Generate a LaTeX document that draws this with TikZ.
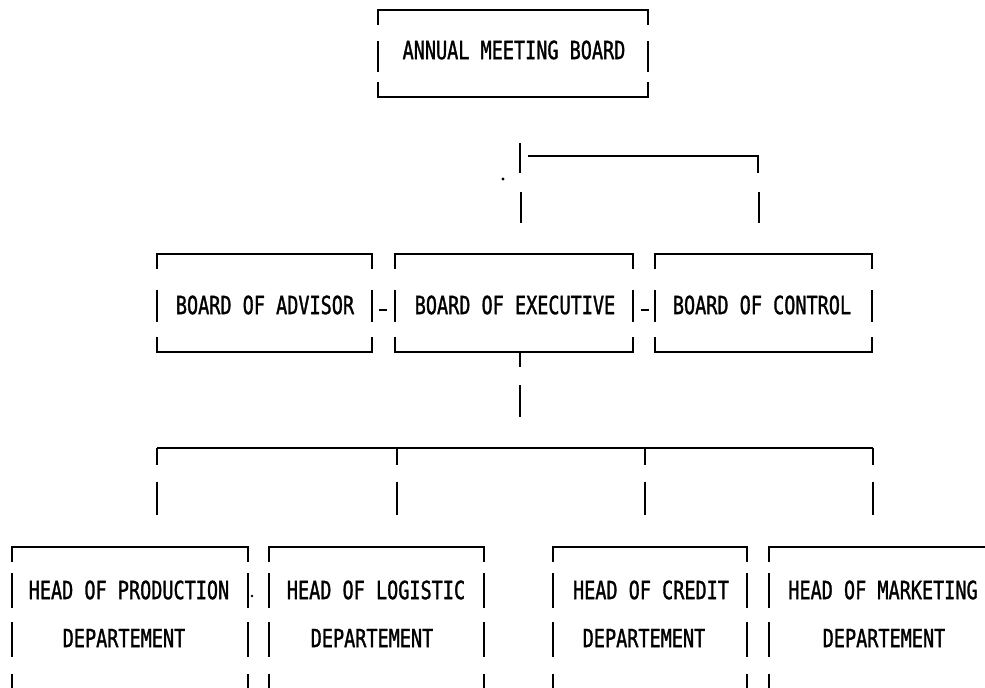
\documentclass[tikz,border=0pt]{standalone}
\usepackage{fontspec}
\usetikzlibrary{calc,fit}
\newfontfamily\dotmatrix[FakeStretch=0.74,FakeBold=1.2]{DejaVu Sans Mono}
\tikzset{
  rule/.style={line width=0.95pt, line cap=butt, black},
  frame/.style={draw=none, inner sep=0pt, outer sep=0pt},
  lbl/.style={inner sep=0pt, outer sep=0pt, font=\dotmatrix\fontsize{12.5}{12.5}\selectfont},
}
% broken printer-style frame round a fitted node: corner ticks plus side segments
\newcommand\dotframe[2]{%
  \draw[rule] ($(#1.north west)+(0,15)$) -- (#1.north west) -- (#1.north east) -- ($(#1.north east)+(0,15)$);
  \draw[rule] ($(#1.south west)+(0,-15)$) -- (#1.south west) -- (#1.south east) -- ($(#1.south east)+(0,-15)$);
  \foreach \segA/\segB in {#2}{%
    \draw[rule] ($(#1.north west)+(0,\segA)$) -- ($(#1.north west)+(0,\segB)$);
    \draw[rule] ($(#1.north east)+(0,\segA)$) -- ($(#1.north east)+(0,\segB)$);
  }%
}
\begin{document}
\begin{tikzpicture}[x=0.5pt,y=-0.5pt]
\fill[white] (0,0) rectangle (985,687);
\clip (0,0) rectangle (985,687);

% top level
\node[frame, fit={(378,10)(648,97)}] (amb) {};
\dotframe{amb}{31/62}
\node[lbl] (ambT) at (514,50) {ANNUAL MEETING BOARD};

% boards
\node[frame, fit={(157,254)(372,352)}] (adv) {};
\node[frame, fit={(395,254)(633,352)}] (exe) {};
\node[frame, fit={(655,254)(872,352)}] (ctl) {};
\foreach \bx in {adv,exe,ctl}{\dotframe{\bx}{36/68}}
\node[lbl] (advT) at (265,305) {BOARD OF ADVISOR};
\node[lbl] (exeT) at (515,305) {BOARD OF EXECUTIVE};
\node[lbl] (ctlT) at (762,305) {BOARD OF CONTROL};

% short dashes joining the boards
\draw[rule] ($(adv.east)+(7,7)$) coordinate (d1a) -- ++(8,0) coordinate (d1b);
\draw[rule] ($(exe.east)+(8,7)$) coordinate (d2a) -- ++(8,0) coordinate (d2b);

% departments
\node[frame, fit={(12,547)(248,710)}] (prd) {};
\node[frame, fit={(269,547)(484,710)}] (lgs) {};
\node[frame, fit={(553,547)(747,710)}] (crd) {};
\node[frame, fit={(769,547)(995,710)}] (mkt) {};
\foreach \bx in {prd,lgs,crd,mkt}{\dotframe{\bx}{26/61,75/110,127/146}}
\node[lbl] (prdA) at (129,590) {HEAD OF PRODUCTION};
\node[lbl] (prdB) at (124,638) {DEPARTEMENT};
\node[lbl] (lgsA) at (376,590) {HEAD OF LOGISTIC};
\node[lbl] (lgsB) at (372,638) {DEPARTEMENT};
\node[lbl] (crdA) at (651,590) {HEAD OF CREDIT};
\node[lbl] (crdB) at (644,638) {DEPARTEMENT};
\node[lbl] (mktA) at (883,590) {HEAD OF MARKETING};
\node[lbl] (mktB) at (884,638) {DEPARTEMENT};

% connector above the boards
\coordinate (u1) at (520,143); \coordinate (u2) at (520,173);
\coordinate (h1) at (528,156); \coordinate (h2) at (758,156); \coordinate (h3) at (758,173);
\coordinate (v1) at (521,192); \coordinate (v2) at (521,223);
\coordinate (w1) at (759,192); \coordinate (w2) at (759,223);
\draw[rule] (u1) -- (u2);
\draw[rule] (h1) -- (h2) -- (h3);
\draw[rule] (v1) -- (v2);
\draw[rule] (w1) -- (w2);

% connector below the executive board
\coordinate (e1) at (520,352); \coordinate (e2) at (520,367);
\coordinate (e3) at (520,385); \coordinate (e4) at (520,417);
\draw[rule] (e1) -- (e2);
\draw[rule] (e3) -- (e4);

% distribution line to the departments
\coordinate (b1) at (157,448); \coordinate (b2) at (397,448);
\coordinate (b3) at (645,448); \coordinate (b4) at (873,448);
\draw[rule] (b1) -- (b4);
\foreach \c in {b1,b2,b3,b4}{
  \draw[rule] (\c) -- ++(0,17);
  \draw[rule] ($(\c)+(0,34)$) -- ++(0,33);
}

% stray printer dots
\fill (503,179) circle (1.6);
\fill (252,596) circle (1.3);
\end{tikzpicture}
\end{document}
